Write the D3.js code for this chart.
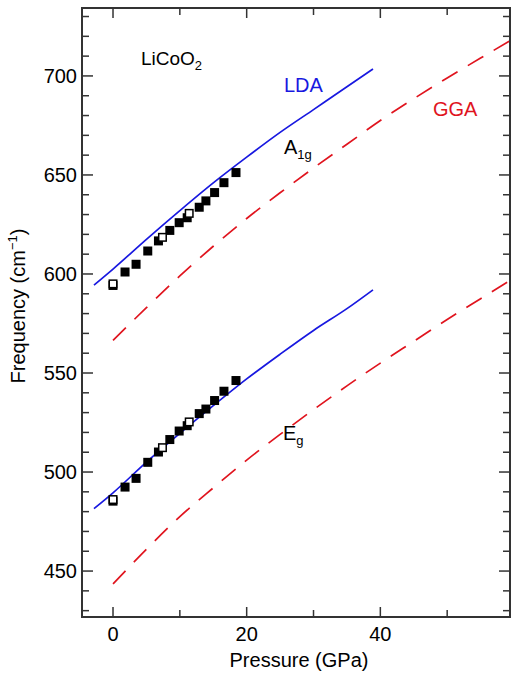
<!DOCTYPE html>
<html>
<head>
<meta charset="utf-8">
<script src="https://cdn.jsdelivr.net/npm/d3@7"></script>
<style>
  body { margin: 0; background: #fff; }
  text { font-family: "Liberation Sans", Arial, sans-serif; }
</style>
</head>
<body>
<script>
// calculated curves (pressure in GPa, frequency in cm-1)
const ldaP = [-2.85, 0, 5, 10, 15, 20, 25, 30, 35, 38.9];
const ldaA1g = [594.4, 602.5, 617.5, 632, 646, 659, 671.5, 683, 694.5, 703.5];
const ldaEg = [481.5, 489.5, 505, 519.5, 533.5, 547, 559.5, 571.5, 582.5, 592];

const ggaP = [0, 5, 10, 15, 20, 25, 30, 35, 40, 45, 50, 55, 60];
const ggaA1g = [566.5, 583, 599, 614, 628, 641, 653.5, 665.5, 677.5, 688.5, 699, 709, 719];
const ggaEg = [443.5, 461, 477.5, 492, 506, 519, 531.5, 543.5, 555, 566, 577, 587.5, 598];

// experiment
const expP = [0, 1.8, 3.45, 5.2, 6.8, 8.5, 9.9, 11.1, 12.9, 13.9, 15.2, 16.6, 18.4];
const expA1g = [594.2, 601, 604.9, 611.6, 616.7, 622, 625.9, 628.4, 633.7, 636.9, 641.1, 646.1, 651.2];
const expEg = [485.3, 492.4, 496.8, 504.9, 510.1, 516.4, 520.7, 523.4, 529.5, 531.8, 536.1, 540.8, 546.2];

const openP = [0, 7.4, 11.4];
const openA1g = [595, 618.5, 630.6];
const openEg = [486.1, 512.3, 525.3];

const xMajor = [0, 20, 40];
const xMinor = [10, 30, 50];
const yMajor = [450, 500, 550, 600, 650, 700];
const yMinor = d3.range(430, 735, 10).filter(v => v % 50 !== 0);

const W = 511, H = 674;
const mLeft = 82, mRight = 510, mTop = 8, mBottom = 617;

const svg = d3.select('body').append('svg')
    .attr('width', W)
    .attr('height', H);

const x = d3.scaleLinear().domain([-4.64, 59.4]).range([mLeft, mRight]);
const y = d3.scaleLinear().domain([426.8, 734.3]).range([mBottom, mTop]);

const blue = '#1818e0';
const red = '#e0141e';
const axisCol = '#333';

svg.append('clipPath').attr('id', 'plotclip')
  .append('rect')
    .attr('x', mLeft).attr('y', mTop)
    .attr('width', mRight - mLeft).attr('height', mBottom - mTop);

const plot = svg.append('g').attr('clip-path', 'url(#plotclip)');

const line = d3.line()
    .x(d => x(d[0]))
    .y(d => y(d[1]))
    .curve(d3.curveMonotoneX);

// LDA solid
[ldaA1g, ldaEg].forEach(vals => {
  plot.append('path')
      .datum(ldaP.map((p, i) => [p, vals[i]]))
      .attr('d', line)
      .attr('fill', 'none')
      .attr('stroke', blue)
      .attr('stroke-width', 1.7);
});

// GGA dashed
[ggaA1g, ggaEg].forEach(vals => {
  plot.append('path')
      .datum(ggaP.map((p, i) => [p, vals[i]]))
      .attr('d', line)
      .attr('fill', 'none')
      .attr('stroke', red)
      .attr('stroke-width', 1.7)
      .attr('stroke-dasharray', '18,12');
});

// squares
const sq = 9;
[expA1g, expEg].forEach(vals => {
  plot.selectAll(null)
      .data(expP.map((p, i) => [p, vals[i]]))
      .enter()
    .append('rect')
      .attr('x', d => x(d[0]) - sq / 2)
      .attr('y', d => y(d[1]) - sq / 2)
      .attr('width', sq)
      .attr('height', sq)
      .attr('fill', '#000');
});
[openA1g, openEg].forEach(vals => {
  plot.selectAll(null)
      .data(openP.map((p, i) => [p, vals[i]]))
      .enter()
    .append('rect')
      .attr('x', d => x(d[0]) - sq / 2 + 0.75)
      .attr('y', d => y(d[1]) - sq / 2 + 0.75)
      .attr('width', sq - 1.5)
      .attr('height', sq - 1.5)
      .attr('fill', '#fff')
      .attr('stroke', '#000')
      .attr('stroke-width', 1.5);
});

// frame
svg.append('rect')
    .attr('x', mLeft).attr('y', mTop)
    .attr('width', mRight - mLeft).attr('height', mBottom - mTop)
    .attr('fill', 'none')
    .attr('stroke', axisCol)
    .attr('stroke-width', 2);

// ticks
const ticks = svg.append('g').attr('stroke', axisCol).attr('stroke-width', 1.5);
function xTicks(vals, len) {
  vals.forEach(v => {
    ticks.append('line').attr('x1', x(v)).attr('x2', x(v)).attr('y1', mBottom).attr('y2', mBottom - len);
    ticks.append('line').attr('x1', x(v)).attr('x2', x(v)).attr('y1', mTop).attr('y2', mTop + len);
  });
}
function yTicks(vals, len) {
  vals.forEach(v => {
    ticks.append('line').attr('x1', mLeft).attr('x2', mLeft + len).attr('y1', y(v)).attr('y2', y(v));
    ticks.append('line').attr('x1', mRight).attr('x2', mRight - len).attr('y1', y(v)).attr('y2', y(v));
  });
}
xTicks(xMajor, 10);
xTicks(xMinor, 7);
yTicks(yMajor, 11);
yTicks(yMinor, 7);

// tick labels
svg.selectAll('.xl')
    .data(xMajor)
    .enter()
  .append('text')
    .attr('x', d => x(d))
    .attr('y', 641)
    .attr('text-anchor', 'middle')
    .attr('font-size', 20)
    .text(d => d);

svg.selectAll('.yl')
    .data(yMajor)
    .enter()
  .append('text')
    .attr('x', 77)
    .attr('y', d => y(d) + 7)
    .attr('text-anchor', 'end')
    .attr('font-size', 20)
    .text(d => d);

// axis titles
svg.append('text')
    .attr('x', 299)
    .attr('y', 667)
    .attr('text-anchor', 'middle')
    .attr('font-size', 20)
    .text('Pressure (GPa)');

const yt = svg.append('text')
    .attr('transform', 'translate(25,306) rotate(-90)')
    .attr('text-anchor', 'middle')
    .attr('font-size', 20);
yt.append('tspan').text('Frequency (cm');
yt.append('tspan').attr('font-size', 13).attr('dy', -8).text('\u22121');
yt.append('tspan').attr('dy', 8).text(')');

// annotations
const lc = svg.append('text').attr('x', 141).attr('y', 65).attr('font-size', 19);
lc.append('tspan').text('LiCoO');
lc.append('tspan').attr('font-size', 13).attr('dy', 5).text('2');

svg.append('text').attr('x', 284).attr('y', 92).attr('font-size', 20)
    .attr('fill', blue).text('LDA');
svg.append('text').attr('x', 433).attr('y', 116).attr('font-size', 20)
    .attr('fill', red).text('GGA');

const a1 = svg.append('text').attr('x', 284).attr('y', 154).attr('font-size', 20);
a1.append('tspan').text('A');
a1.append('tspan').attr('font-size', 13).attr('dy', 5).text('1g');

const eg = svg.append('text').attr('x', 283).attr('y', 440).attr('font-size', 20);
eg.append('tspan').text('E');
eg.append('tspan').attr('font-size', 13).attr('dy', 5).text('g');
</script>
</body>
</html>
